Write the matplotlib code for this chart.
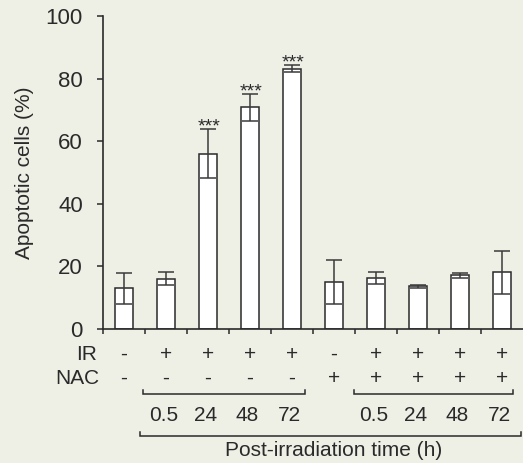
import numpy as np
import matplotlib
matplotlib.use("Agg")
import matplotlib.pyplot as plt
import matplotlib.transforms as mtransforms

plt.rcParams['font.family'] = ['Liberation Sans', 'DejaVu Sans']

# Apoptosis data: mean and SD per condition
ir_signs = ['-', '+', '+', '+', '+', '-', '+', '+', '+', '+']
nac_signs = ['-', '-', '-', '-', '-', '+', '+', '+', '+', '+']
time_labels = ['', '0.5', '24', '48', '72', '', '0.5', '24', '48', '72']
values = [13.0, 16.1, 56.0, 70.8, 83.1, 15.0, 16.2, 13.7, 17.1, 18.1]
errors = [5.0, 2.0, 7.9, 4.2, 1.1, 7.0, 1.9, 0.5, 0.9, 6.9]
significant = [False, False, True, True, True, False, False, False, False, False]

bg = '#eef0e6'
ink = '#2a2a2a'

fig = plt.figure(figsize=(5.23, 4.63), dpi=100, facecolor=bg)
ax = fig.add_axes([103 / 523, 134 / 463, 420 / 523, 313 / 463], facecolor=bg)

x = np.arange(len(values))
ax.bar(x, values, width=0.41, color='white', edgecolor=ink, linewidth=1.1, zorder=2)
ax.errorbar(x, values, yerr=errors, fmt='none', ecolor='#3a3a3a', elinewidth=1.1,
            capsize=5.5, capthick=1.1, zorder=3)

for xi, v, e, s in zip(x, values, errors, significant):
    if s:
        ax.annotate('***', xy=(xi, v + e), xytext=(1, -1.5), textcoords='offset points',
                    ha='center', va='baseline', fontsize=14, color=ink)

ax.set_xlim(-0.5, 9.5)
ax.set_ylim(0, 100)
ax.set_yticks([0, 20, 40, 60, 80, 100])
ax.set_xticks(np.arange(-0.5, 9.0, 1.0))
ax.set_xticklabels([])
ax.tick_params(axis='y', labelsize=16, length=4.5, width=1.1, pad=10, colors=ink)
ax.tick_params(axis='x', length=3.6, width=1.1, colors=ink)
for side in ('top', 'right'):
    ax.spines[side].set_visible(False)
for side in ('left', 'bottom'):
    ax.spines[side].set_linewidth(1.2)
    ax.spines[side].set_color(ink)

ax.set_ylabel('Apoptotic cells (%)', fontsize=15, color=ink, labelpad=8)

# Treatment table under the axis
trans = mtransforms.blended_transform_factory(ax.transData, ax.transAxes)
row_ir, row_nac, row_time = -0.080, -0.157, -0.275
fs = 15
ax.text(-0.64, row_ir, 'IR', transform=trans, ha='right', va='center', fontsize=fs, color=ink)
ax.text(-0.58, row_nac, 'NAC', transform=trans, ha='right', va='center', fontsize=fs, color=ink)
for xi, a, b, t in zip(x, ir_signs, nac_signs, time_labels):
    ax.text(xi, row_ir, a, transform=trans, ha='center', va='center', fontsize=fs, color=ink)
    ax.text(xi, row_nac, b, transform=trans, ha='center', va='center', fontsize=fs, color=ink)
    if t:
        ax.text(xi - 0.06, row_time, t, transform=trans, ha='center', va='center',
                fontsize=fs, color=ink)


def bracket(x0, x1, y, h=0.012):
    ax.plot([x0, x0, x1, x1], [y + h, y, y, y + h], transform=trans, color=ink,
            lw=1.1, clip_on=False, solid_joinstyle='miter')


bracket(0.45, 4.31, -0.208)
bracket(5.48, 9.26, -0.208)
bracket(0.38, 9.45, -0.342)
ax.text(4.98, -0.387, 'Post-irradiation time (h)', transform=trans, ha='center',
        va='center', fontsize=fs, color=ink)

fig.savefig('out.png', dpi=100, facecolor=bg)
